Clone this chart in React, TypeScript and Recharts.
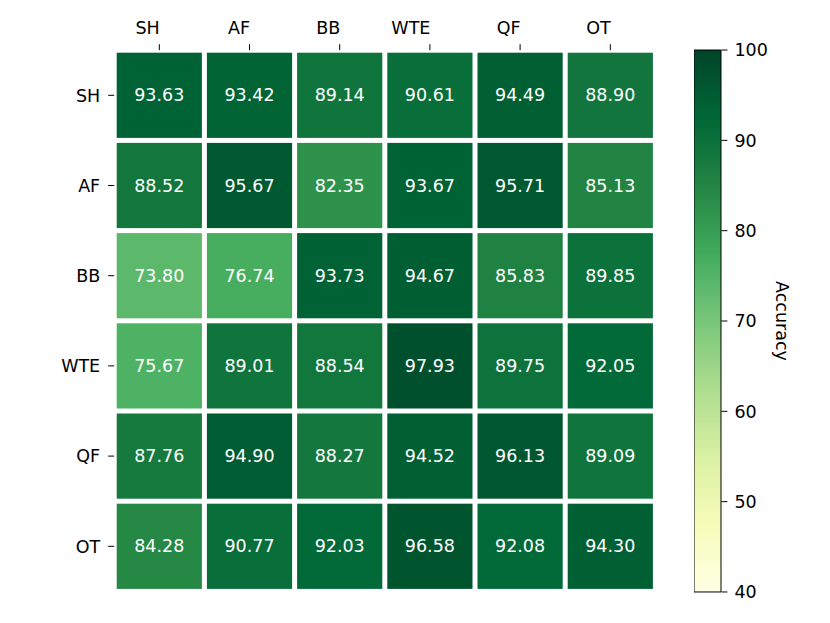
import React from "react";
import {
  ScatterChart,
  Scatter,
  XAxis,
  YAxis,
  BarChart,
  Bar,
} from "recharts";

const labels = ["SH", "AF", "BB", "WTE", "QF", "OT"];

const rowSH = [93.63, 93.42, 89.14, 90.61, 94.49, 88.9];
const rowAF = [88.52, 95.67, 82.35, 93.67, 95.71, 85.13];
const rowBB = [73.8, 76.74, 93.73, 94.67, 85.83, 89.85];
const rowWTE = [75.67, 89.01, 88.54, 97.93, 89.75, 92.05];
const rowQF = [87.76, 94.9, 88.27, 94.52, 96.13, 89.09];
const rowOT = [84.28, 90.77, 92.03, 96.58, 92.08, 94.3];

const rows = [rowSH, rowAF, rowBB, rowWTE, rowQF, rowOT];

const vmin = 40;
const vmax = 100;
const colorbarTicks = [40, 50, 60, 70, 80, 90, 100];

// matplotlib YlGn
const YLGN = [
  [255, 255, 229],
  [247, 252, 185],
  [217, 240, 163],
  [173, 221, 142],
  [120, 198, 121],
  [65, 171, 93],
  [35, 132, 67],
  [0, 104, 55],
  [0, 69, 41],
];

function ylgn(v: number) {
  let t = (v - vmin) / (vmax - vmin);
  t = Math.max(0, Math.min(1, t));
  const p = t * (YLGN.length - 1);
  const i = Math.min(Math.floor(p), YLGN.length - 2);
  const f = p - i;
  const c = YLGN[i].map((a, k) => Math.round(a + (YLGN[i + 1][k] - a) * f));
  return `rgb(${c[0]},${c[1]},${c[2]})`;
}

const cells = rows.flatMap((r, y) => r.map((value, x) => ({ x, y, value })));

const FONT = "DejaVu Sans, sans-serif";
const FS = 17.5;

// plot area of the heatmap
const PL = 114.2;
const PR = 655.4;
const PT = 50.2;
const PB = 591.4;
const CW = (PR - PL) / 6;
const CH = (PB - PT) / 6;
const GAP = 5;

const CellShape = (props: any) => {
  const { cx, cy, payload } = props;
  const w = CW - GAP;
  const h = CH - GAP;
  return (
    <g>
      <rect x={cx - w / 2} y={cy - h / 2} width={w} height={h} fill={ylgn(payload.value)} />
      <text
        x={cx}
        y={cy}
        textAnchor="middle"
        dominantBaseline="central"
        fill="#fff"
        fontSize={FS}
        fontFamily={FONT}
      >
        {payload.value.toFixed(2)}
      </text>
    </g>
  );
};

const tickStyle = { fill: "#000", fontSize: FS, fontFamily: FONT };

// top labels sit right-aligned on their tick
const TopTick = (props: any) => {
  const { x, y, payload } = props;
  return (
    <text x={x + 0.5} y={y} textAnchor="end" fill="#000" fontSize={FS} fontFamily={FONT}>
      {labels[payload.value]}
    </text>
  );
};

export default function App() {
  const yAxisW = 60;
  const xAxisH = 30;
  const cbAxisW = 108.3;
  const cbLeft = 694.3;
  const cbWidth = 27.4 + cbAxisW;
  return (
    <div style={{ position: "absolute", left: 0, top: 0, width: 830, height: 623, background: "#fff" }}>
      <div style={{ position: "absolute", left: 0, top: 0 }}>
        <ScatterChart
          width={830}
          height={623}
          margin={{ left: PL - yAxisW, right: 830 - PR, top: PT - xAxisH, bottom: 623 - PB }}
        >
          <XAxis
            type="number"
            dataKey="x"
            orientation="top"
            domain={[-0.5, 5.5]}
            ticks={[0, 1, 2, 3, 4, 5]}
            axisLine={false}
            tickLine={{ stroke: "#000" }}
            tickSize={6}
            tickMargin={10}
            height={xAxisH}
            tick={<TopTick />}
            interval={0}
          />
          <YAxis
            type="number"
            dataKey="y"
            reversed
            domain={[-0.5, 5.5]}
            ticks={[0, 1, 2, 3, 4, 5]}
            tickFormatter={(i: number) => labels[i]}
            axisLine={false}
            tickLine={{ stroke: "#000" }}
            tickSize={6}
            tickMargin={8}
            width={yAxisW}
            tick={tickStyle}
            interval={0}
          />
          <Scatter data={cells} shape={<CellShape />} isAnimationActive={false} />
        </ScatterChart>
      </div>
      <div style={{ position: "absolute", left: cbLeft, top: 0 }}>
        <BarChart
          width={cbWidth}
          height={623}
          data={[{ name: "cb", range: [vmin, vmax] }]}
          margin={{ left: 0, right: 0, top: 50, bottom: 31 }}
          barCategoryGap={0}
          barGap={0}
        >
          <defs>
            <linearGradient id="ylgn" x1="0" y1="1" x2="0" y2="0">
              {YLGN.map((c, i) => (
                <stop
                  key={i}
                  offset={`${(i / (YLGN.length - 1)) * 100}%`}
                  stopColor={`rgb(${c[0]},${c[1]},${c[2]})`}
                />
              ))}
            </linearGradient>
          </defs>
          <XAxis dataKey="name" hide />
          <YAxis
            orientation="right"
            type="number"
            domain={[vmin, vmax]}
            ticks={colorbarTicks}
            interval={0}
            axisLine={false}
            tickLine={{ stroke: "#000" }}
            tickSize={6}
            tickMargin={7}
            width={cbAxisW}
            tick={{ ...tickStyle, textAnchor: "start" }}
            label={{
              value: "Accuracy",
              angle: 90,
              position: "center",
              dx: 7,
              style: { fill: "#000", fontSize: FS, fontFamily: FONT },
            }}
          />
          <Bar dataKey="range" fill="url(#ylgn)" stroke="#000" strokeWidth={1} isAnimationActive={false} />
        </BarChart>
      </div>
    </div>
  );
}
